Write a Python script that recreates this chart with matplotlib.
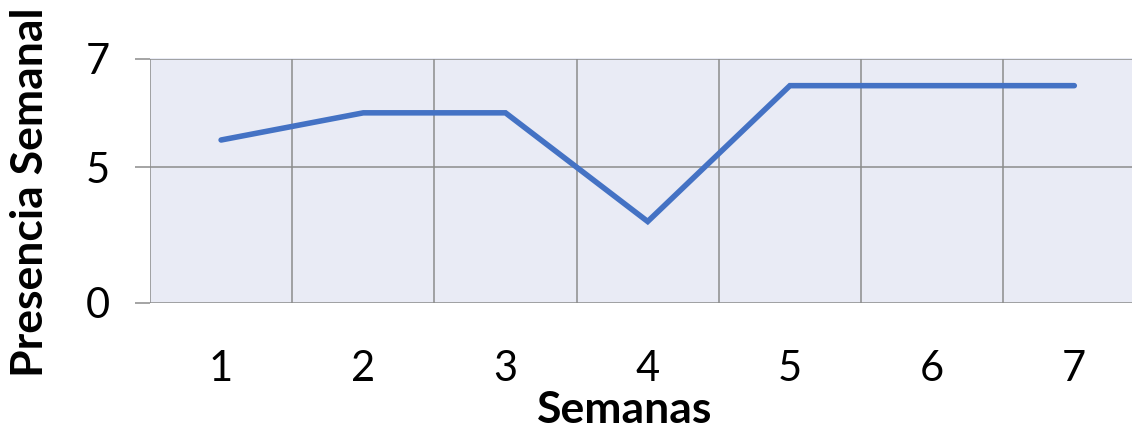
import numpy as np
import matplotlib
matplotlib.use("Agg")
import matplotlib.pyplot as plt

plt.rcParams['font.family'] = ['Lato', 'DejaVu Sans']

# datos
semanas = [1, 2, 3, 4, 5, 6, 7]
presencia = [5.5, 6, 6, 3, 6.5, 6.5, 6.5]
y_ticks = [0, 5, 7]

LINE = '#4472C4'
GRID = '#8c8c8c'
BG = '#E9EBF5'


# escala por tramos: 0-5 comprimido, 5-7 estirado (como el original)
def forward(y):
    y = np.asarray(y, dtype=float)
    return np.where(y <= 5, y, 5 + (y - 5) * 2)


def inverse(t):
    t = np.asarray(t, dtype=float)
    return np.where(t <= 5, t, 5 + (t - 5) / 2)


fig = plt.figure(figsize=(11.32, 4.30), dpi=100)
ax = fig.add_axes([150 / 1132, 1 - 303 / 430, 1 - 150 / 1132, (303 - 58.5) / 430])
ax.set_facecolor(BG)
ax.set_yscale('function', functions=(forward, inverse))

ax.plot(semanas, presencia, color=LINE, lw=4.0, solid_capstyle='round', solid_joinstyle='miter', zorder=3)

ax.set_yticks(y_ticks)
ax.set_yticklabels([str(v) for v in y_ticks])
ax.set_xticks(semanas)
ax.set_xticks(np.arange(0.5, 8, 1), minor=True)

# limites despues de los ticks (set_xticks los amplia)
ax.set_xlim(0.5, 0.5 + (1132 - 150) / 142.2)
ax.set_ylim(0, 7)

ax.tick_params(axis='y', which='major', length=11, width=1.1, color=GRID, pad=18, labelsize=30)
ax.tick_params(axis='x', which='major', length=0, pad=34, labelsize=30)
ax.tick_params(axis='x', which='minor', length=0)

ax.grid(axis='y', which='major', color=GRID, lw=1.1)
ax.grid(axis='x', which='minor', color=GRID, lw=1.1)
ax.grid(axis='x', which='major', visible=False)
for s in ax.spines.values():
    s.set_visible(False)

fig.text(625 / 1132, 1 - 410 / 430, 'Semanas', ha='center', va='center', fontsize=32, fontweight='bold')
fig.text(30 / 1132, 1 - 192 / 430, 'Presencia Semanal', ha='center', va='center', rotation=90,
         fontsize=32, fontweight='bold')

fig.savefig('out.png', dpi=100)
